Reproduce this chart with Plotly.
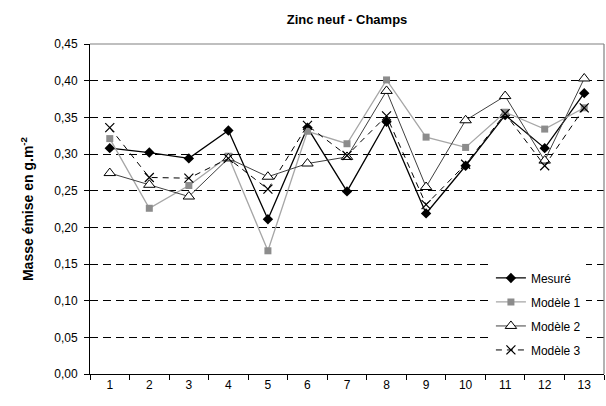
import plotly.graph_objects as go

categories = ["1", "2", "3", "4", "5", "6", "7", "8", "9", "10", "11", "12", "13"]
mesure = [0.308, 0.302, 0.294, 0.332, 0.211, 0.336, 0.249, 0.344, 0.219, 0.284, 0.353, 0.308, 0.383]
modele1 = [0.321, 0.226, 0.257, 0.297, 0.168, 0.331, 0.314, 0.401, 0.323, 0.309, 0.357, 0.334, 0.363]
modele2 = [0.274, 0.258, 0.242, 0.294, 0.269, 0.287, 0.296, 0.386, 0.255, 0.346, 0.379, 0.291, 0.403]
modele3 = [0.336, 0.268, 0.267, 0.294, 0.252, 0.339, 0.298, 0.352, 0.231, 0.286, 0.355, 0.284, 0.363]
y_ticks = [0.0, 0.05, 0.10, 0.15, 0.20, 0.25, 0.30, 0.35, 0.40, 0.45]

FONT = "Arial, Liberation Sans, sans-serif"

fig = go.Figure()
fig.add_trace(go.Scatter(
    x=categories, y=mesure, name="Mesuré", mode="lines+markers", legendgroup="a",
    line=dict(color="black", width=1.3),
    marker=dict(symbol="diamond", size=8, color="black"),
))
fig.add_trace(go.Scatter(
    x=categories, y=modele1, name="Modèle 1", mode="lines+markers", legendgroup="b",
    line=dict(color="#a6a6a6", width=1.3),
    marker=dict(symbol="square", size=7, color="#8c8c8c"),
))
fig.add_trace(go.Scatter(
    x=categories, y=modele2, name="Modèle 2", mode="lines+markers", legendgroup="c",
    line=dict(color="#404040", width=1),
    marker=dict(symbol="triangle-up", size=10, color="white",
                line=dict(color="black", width=1)),
))
fig.add_trace(go.Scatter(
    x=categories, y=modele3, name="Modèle 3", mode="lines+markers", legendgroup="d",
    line=dict(color="black", width=1, dash="6px,5px"),
    marker=dict(symbol="x-thin", size=9, color="black",
                line=dict(color="black", width=1.2)),
))

fig.update_layout(
    width=606, height=406,
    margin=dict(l=90, r=2, t=44, b=32),
    paper_bgcolor="white", plot_bgcolor="white",
    font=dict(family=FONT, size=12, color="black"),
    separators=", ",
    title=dict(text="<b>Zinc neuf - Champs</b>", x=(90 + 604) / 2 / 606, xanchor="center",
               y=1 - 19 / 406, yanchor="middle", font=dict(size=13, family=FONT)),
    showlegend=True,
    legend=dict(x=0.78, y=0.335, xanchor="left", yanchor="top",
                bgcolor="white", borderwidth=0, font=dict(size=12, family=FONT),
                tracegroupgap=5, itemwidth=30),
    xaxis=dict(
        type="category", tickson="boundaries", ticks="outside", ticklen=5,
        tickcolor="black", showline=True, linecolor="black", linewidth=1,
        showgrid=False, tickfont=dict(size=12), range=[-0.5, 12.5],
    ),
    yaxis=dict(
        range=[0, 0.45], tickvals=y_ticks, tickformat=".2f",
        ticks="outside", ticklen=5, tickcolor="black", ticklabelstandoff=4,
        showline=True, linecolor="black", linewidth=1,
        showgrid=True, gridcolor="black", gridwidth=1, griddash="8px,5px",
        zeroline=False, tickfont=dict(size=12),
        title=dict(text="<b>Masse émise en g.m<sup>-2</sup></b>", font=dict(size=14), standoff=17),
    ),
    shapes=[
        dict(type="line", xref="paper", yref="paper", x0=0, x1=1, y0=1, y1=1,
             line=dict(color="#808080", width=1.2), layer="above"),
        dict(type="line", xref="paper", yref="paper", x0=1, x1=1, y0=0, y1=1,
             line=dict(color="#808080", width=1.2), layer="above"),
    ],
)

fig.write_html("out.html", config={"displayModeBar": False},
               post_script="document.body.style.margin='0';")
